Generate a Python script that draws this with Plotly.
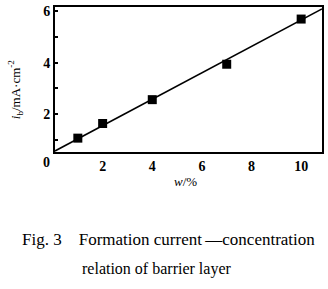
import plotly.graph_objects as go

# data
w_pct = [1, 2, 4, 7, 10]
i_b = [1.06, 1.63, 2.56, 3.94, 5.70]
fit_x = [0.08, 10.84]
fit_y = [0.56, 6.10]

x_ticks = [2, 4, 6, 8, 10]
y_ticks = [2, 4, 6]

serif = "Liberation Serif"

fig = go.Figure()
fig.add_trace(go.Scatter(x=fit_x, y=fit_y, mode="lines",
                         line=dict(color="black", width=1.5), showlegend=False))
fig.add_trace(go.Scatter(x=w_pct, y=i_b, mode="markers",
                         marker=dict(symbol="square", size=9, color="black"),
                         showlegend=False))

tickfont = dict(family=serif, size=14, color="black", weight="bold")
fig.update_layout(
    width=328, height=289,
    margin=dict(l=55, r=4, t=5, b=137),
    paper_bgcolor="white", plot_bgcolor="white",
    font=dict(family=serif, color="black"),
    xaxis=dict(range=[0.08, 10.84], tickvals=x_ticks, ticktext=[str(v) for v in x_ticks],
               showgrid=False, zeroline=False, showline=True, linecolor="black",
               linewidth=2, mirror=True, ticks="",
               tickfont=tickfont, fixedrange=True),
    yaxis=dict(range=[0.52, 6.17], tickvals=y_ticks, ticktext=[str(v) for v in y_ticks],
               showgrid=False, zeroline=False, showline=True, linecolor="black",
               linewidth=2, mirror=True, ticks="inside", ticklen=3, tickwidth=1.5,
               tickcolor="black",
               minor=dict(tickvals=[1, 3, 5], ticks="inside", ticklen=3, tickwidth=1.5,
                          tickcolor="black", showgrid=False),
               tickfont=tickfont, fixedrange=True),
)

L, R, T, B = 55, 324, 5, 152
annotations = [
    dict(text="<b>0</b>", x=46, y=163, size=14),
    dict(text="<i>i</i><sub>b</sub>/mA·cm<sup>-2</sup>", x=15, y=88, size=13, angle=-90),
    dict(text="<i>w</i>/%", x=186, y=182, size=13),
    dict(text="Fig. 3\u2003Formation current\u2009\u2014concentration", x=169, y=241, size=17),
    dict(text="relation of barrier layer", x=157, y=271, size=16),
]
for a in annotations:
    fig.add_annotation(text=a["text"], x=(a["x"] - L) / (R - L), y=(B - a["y"]) / (B - T),
                       xref="paper", yref="paper", showarrow=False,
                       textangle=a.get("angle", 0),
                       font=dict(family=serif, size=a["size"], color="black"),
                       xanchor="center", yanchor="middle")

fig.write_html("out.html")
